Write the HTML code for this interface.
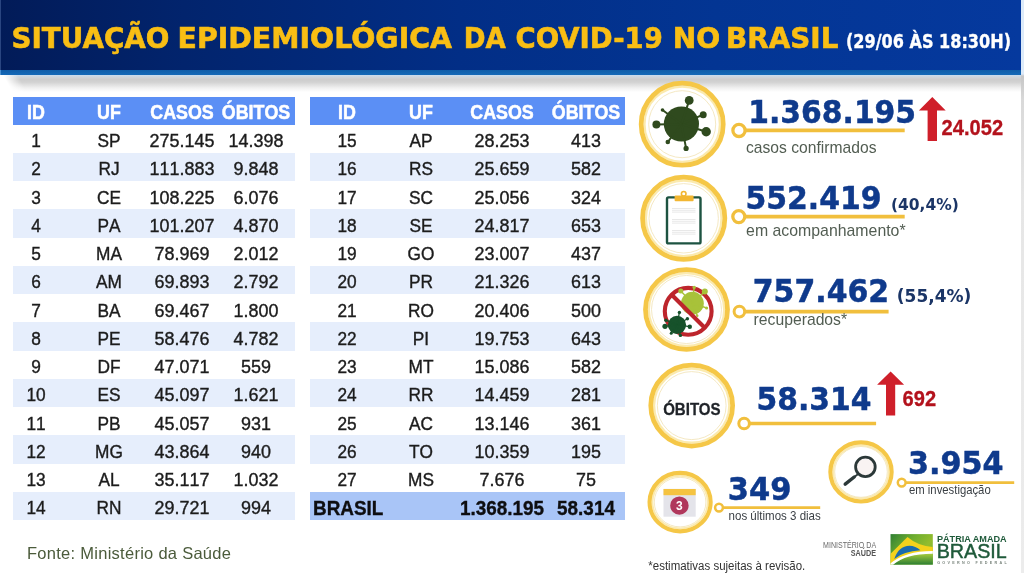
<!DOCTYPE html>
<html lang="pt-BR">
<head>
<meta charset="utf-8">
<title>Situação epidemiológica da COVID-19 no Brasil</title>
<style>
html,body{margin:0;padding:0}
body{width:1024px;height:573px;position:relative;overflow:hidden;background:#fff;font-family:"Liberation Sans",sans-serif;color:#1c1c1c}
.header{position:absolute;left:0;top:0;width:1021px;height:70px;background:linear-gradient(90deg,#021b58 0%,#02246d 18%,#022e86 45%,#033593 70%,#05399e 100%)}
.hstrip{position:absolute;left:0;top:69.7px;width:1021px;height:5px;background:linear-gradient(180deg,#0f5ca8,#1469b8)}
.ledge{position:absolute;left:0;top:0;width:1.3px;height:74.7px;background:linear-gradient(180deg,#2a4580 0,#2a4580 69.7px,#4a90d2 70px)}
.hshadow{position:absolute;left:2px;top:74.5px;width:1019px;height:17px;background:linear-gradient(62deg,#fff 0,#fff 9px,rgba(255,255,255,0) 22px),linear-gradient(180deg,#c9dcef 0%,#cfd3d8 14%,#cdcdcd 26%,#d2d2d2 42%,#f0f0f0 76%,#fff 100%)}
.rshadow{position:absolute;left:1021px;top:0;width:3px;height:573px;background:linear-gradient(180deg,#dceaf9 0,#dceaf9 74px,#c6c6c6 76px,#d9d9d9 100px,#e6e6e6 200px,#ececec 573px)}
.tb{position:absolute;top:97px;height:423px}
.t1{left:13px;width:282px}
.t2{left:310px;width:315px}
.tr{position:absolute;left:0;width:100%;height:28.243px;line-height:28.243px;font-size:19.2px;-webkit-text-stroke:0.4px #1c1c1c}
.tr.alt{background:#e6eefc}
.tr.th{background:#5b8ff5;color:#fff;font-weight:bold;font-size:20.5px;line-height:27.8px;-webkit-text-stroke:0.55px #fff}
.tr.tot{background:#a9c5f7;font-weight:bold;font-size:19.6px;color:#0e0e10;-webkit-text-stroke:0.35px #0e0e10}
.tb .tr.tot span{transform:scaleX(.965)}
.tr span{font-kerning:none;position:absolute;top:2.5px;width:100px;margin-left:-50px;text-align:center;white-space:nowrap;transform:scaleX(.90)}
.tr.th span{transform:scaleX(.87);top:1px}
.t1 .c1{left:23px}.t1 .c2{left:96px}.t1 .c3{left:168.5px;transform:scaleX(.935)}.t1 .c4{left:243px;transform:scaleX(.935)}
.t2 .c1{left:37.3px}.t2 .c2{left:110.5px}.t2 .c3{left:191.5px;transform:scaleX(.935)}.t2 .c4{left:276px;transform:scaleX(.935)}
.tr.tot span.c0{left:3px;margin-left:0;width:auto;text-align:left;transform-origin:0 50%}
.fonte{position:absolute;left:27px;top:543px;font-size:16.5px;letter-spacing:.27px;color:#4b5b3b;line-height:20px;white-space:nowrap;transform-origin:0 50%}
svg.panel{position:absolute;left:0;top:0}
</style>
</head>
<body>
<div class="header"></div>
<div class="hstrip"></div>
<div class="hshadow"></div>
<div class="ledge"></div>
<div class="rshadow"></div>
<div class="tb t1">
<div class="tr th" style="top:0;height:27.6px"><span class="c1">ID</span><span class="c2">UF</span><span class="c3">CASOS</span><span class="c4">ÓBITOS</span></div>
<div class="tr" style="top:27.60px"><span class="c1">1</span><span class="c2">SP</span><span class="c3">275.145</span><span class="c4">14.398</span></div>
<div class="tr alt" style="top:55.84px"><span class="c1">2</span><span class="c2">RJ</span><span class="c3">111.883</span><span class="c4">9.848</span></div>
<div class="tr" style="top:84.09px"><span class="c1">3</span><span class="c2">CE</span><span class="c3">108.225</span><span class="c4">6.076</span></div>
<div class="tr alt" style="top:112.33px"><span class="c1">4</span><span class="c2">PA</span><span class="c3">101.207</span><span class="c4">4.870</span></div>
<div class="tr" style="top:140.57px"><span class="c1">5</span><span class="c2">MA</span><span class="c3">78.969</span><span class="c4">2.012</span></div>
<div class="tr alt" style="top:168.81px"><span class="c1">6</span><span class="c2">AM</span><span class="c3">69.893</span><span class="c4">2.792</span></div>
<div class="tr" style="top:197.06px"><span class="c1">7</span><span class="c2">BA</span><span class="c3">69.467</span><span class="c4">1.800</span></div>
<div class="tr alt" style="top:225.30px"><span class="c1">8</span><span class="c2">PE</span><span class="c3">58.476</span><span class="c4">4.782</span></div>
<div class="tr" style="top:253.54px"><span class="c1">9</span><span class="c2">DF</span><span class="c3">47.071</span><span class="c4">559</span></div>
<div class="tr alt" style="top:281.79px"><span class="c1">10</span><span class="c2">ES</span><span class="c3">45.097</span><span class="c4">1.621</span></div>
<div class="tr" style="top:310.03px"><span class="c1">11</span><span class="c2">PB</span><span class="c3">45.057</span><span class="c4">931</span></div>
<div class="tr alt" style="top:338.27px"><span class="c1">12</span><span class="c2">MG</span><span class="c3">43.864</span><span class="c4">940</span></div>
<div class="tr" style="top:366.51px"><span class="c1">13</span><span class="c2">AL</span><span class="c3">35.117</span><span class="c4">1.032</span></div>
<div class="tr alt" style="top:394.76px"><span class="c1">14</span><span class="c2">RN</span><span class="c3">29.721</span><span class="c4">994</span></div>
</div>
<div class="tb t2">
<div class="tr th" style="top:0;height:27.6px"><span class="c1">ID</span><span class="c2">UF</span><span class="c3">CASOS</span><span class="c4">ÓBITOS</span></div>
<div class="tr" style="top:27.60px"><span class="c1">15</span><span class="c2">AP</span><span class="c3">28.253</span><span class="c4">413</span></div>
<div class="tr alt" style="top:55.84px"><span class="c1">16</span><span class="c2">RS</span><span class="c3">25.659</span><span class="c4">582</span></div>
<div class="tr" style="top:84.09px"><span class="c1">17</span><span class="c2">SC</span><span class="c3">25.056</span><span class="c4">324</span></div>
<div class="tr alt" style="top:112.33px"><span class="c1">18</span><span class="c2">SE</span><span class="c3">24.817</span><span class="c4">653</span></div>
<div class="tr" style="top:140.57px"><span class="c1">19</span><span class="c2">GO</span><span class="c3">23.007</span><span class="c4">437</span></div>
<div class="tr alt" style="top:168.81px"><span class="c1">20</span><span class="c2">PR</span><span class="c3">21.326</span><span class="c4">613</span></div>
<div class="tr" style="top:197.06px"><span class="c1">21</span><span class="c2">RO</span><span class="c3">20.406</span><span class="c4">500</span></div>
<div class="tr alt" style="top:225.30px"><span class="c1">22</span><span class="c2">PI</span><span class="c3">19.753</span><span class="c4">643</span></div>
<div class="tr" style="top:253.54px"><span class="c1">23</span><span class="c2">MT</span><span class="c3">15.086</span><span class="c4">582</span></div>
<div class="tr alt" style="top:281.79px"><span class="c1">24</span><span class="c2">RR</span><span class="c3">14.459</span><span class="c4">281</span></div>
<div class="tr" style="top:310.03px"><span class="c1">25</span><span class="c2">AC</span><span class="c3">13.146</span><span class="c4">361</span></div>
<div class="tr alt" style="top:338.27px"><span class="c1">26</span><span class="c2">TO</span><span class="c3">10.359</span><span class="c4">195</span></div>
<div class="tr" style="top:366.51px"><span class="c1">27</span><span class="c2">MS</span><span class="c3">7.676</span><span class="c4">75</span></div>
<div class="tr tot" style="top:394.76px"><span class="c0">BRASIL</span><span class="c3">1.368.195</span><span class="c4">58.314</span></div>
</div>
<div class="fonte">Fonte: Ministério da Saúde</div>
<svg class="panel" width="1024" height="573" viewBox="0 0 1024 573">
<g font-family="'DejaVu Sans',sans-serif" font-weight="bold" font-size="28.3" fill="#f9be14" stroke="#f9be14" stroke-width="0.6"><text x="11.5" y="47.8" textLength="158.0" lengthAdjust="spacingAndGlyphs">SITUAÇÃO</text><text x="177.5" y="47.8" textLength="274.5" lengthAdjust="spacingAndGlyphs">EPIDEMIOLÓGICA</text><text x="463.7" y="47.8" textLength="42.0" lengthAdjust="spacingAndGlyphs">DA</text><text x="515.5" y="47.8" textLength="147.3" lengthAdjust="spacingAndGlyphs">COVID-19</text><text x="672.7" y="47.8" textLength="47.5" lengthAdjust="spacingAndGlyphs">NO</text><text x="726.1" y="47.8" textLength="112.3" lengthAdjust="spacingAndGlyphs">BRASIL</text></g>
<text x="846" y="47.8" font-family="'DejaVu Sans',sans-serif" font-weight="bold" font-size="18.8" fill="#fff" textLength="165" lengthAdjust="spacingAndGlyphs" stroke="#fff" stroke-width="0.35">(29/06 ÀS 18:30H)</text>
<line x1="745.1" y1="130.4" x2="904.7" y2="130.4" stroke="#f1bf3d" stroke-width="3.7"/><circle cx="739.0" cy="130.4" r="6.1" fill="#fff" stroke="#f1bf3d" stroke-width="3.3"/>
<line x1="744.8" y1="216.6" x2="904.7" y2="216.6" stroke="#f1bf3d" stroke-width="3.7"/><circle cx="738.8" cy="216.6" r="6.0" fill="#fff" stroke="#f1bf3d" stroke-width="3.3"/>
<line x1="744.6999999999999" y1="311.6" x2="888.6" y2="311.6" stroke="#f1bf3d" stroke-width="3.7"/><circle cx="739.4" cy="311.6" r="5.3" fill="#fff" stroke="#f1bf3d" stroke-width="3.0"/>
<line x1="749.4" y1="423.5" x2="876.1" y2="423.5" stroke="#f1bf3d" stroke-width="3.7"/><circle cx="744.1" cy="423.5" r="5.3" fill="#fff" stroke="#f1bf3d" stroke-width="3.0"/>
<line x1="722.9" y1="507.6" x2="820.2" y2="507.6" stroke="#f1bf3d" stroke-width="2.8"/><circle cx="719.0" cy="507.6" r="3.9" fill="#fff" stroke="#f1bf3d" stroke-width="2.5"/>
<line x1="905.6" y1="482.6" x2="1014.2" y2="482.6" stroke="#f1bf3d" stroke-width="2.8"/><circle cx="901.7" cy="482.6" r="3.9" fill="#fff" stroke="#f1bf3d" stroke-width="2.5"/>
<ellipse cx="682.2" cy="124.2" rx="37.60" ry="37.60" fill="#fff" stroke="#fbeaae" stroke-width="2.09"/><ellipse cx="682.2" cy="124.2" rx="41.02" ry="41.02" fill="none" stroke="#f5c747" stroke-width="4.76"/><ellipse cx="682.2" cy="124.2" rx="33.5" ry="33.50" fill="none" stroke="#f1e2b4" stroke-width="0.8"/>
<ellipse cx="683.7" cy="218.3" rx="37.70" ry="37.70" fill="#fff" stroke="#fbeaae" stroke-width="2.09"/><ellipse cx="683.7" cy="218.3" rx="41.12" ry="41.12" fill="none" stroke="#f5c747" stroke-width="4.76"/><ellipse cx="683.7" cy="218.3" rx="34.7" ry="34.70" fill="none" stroke="#f1e2b4" stroke-width="0.8"/>
<ellipse cx="686.5" cy="309.5" rx="37.60" ry="36.40" fill="#fff" stroke="#fbeaae" stroke-width="2.09"/><ellipse cx="686.5" cy="309.5" rx="41.02" ry="39.82" fill="none" stroke="#f5c747" stroke-width="4.76"/><ellipse cx="686.5" cy="309.5" rx="35.0" ry="34.03" fill="none" stroke="#f1e2b4" stroke-width="0.8"/>
<ellipse cx="691.7" cy="405.6" rx="37.50" ry="37.00" fill="#fff" stroke="#fbeaae" stroke-width="2.09"/><ellipse cx="691.7" cy="405.6" rx="40.92" ry="40.42" fill="none" stroke="#f5c747" stroke-width="4.76"/><ellipse cx="691.7" cy="405.6" rx="34.4" ry="34.00" fill="none" stroke="#f1e2b4" stroke-width="0.8"/>
<ellipse cx="680.1" cy="502.1" rx="27.60" ry="26.30" fill="#fff" stroke="#fbeaae" stroke-width="1.80"/><ellipse cx="680.1" cy="502.1" rx="30.55" ry="29.25" fill="none" stroke="#f5c747" stroke-width="4.10"/><ellipse cx="680.1" cy="502.1" rx="25.8" ry="24.77" fill="none" stroke="#f1e2b4" stroke-width="0.8"/>
<ellipse cx="861.0" cy="471.9" rx="27.70" ry="26.60" fill="#fff" stroke="#fbeaae" stroke-width="1.80"/><ellipse cx="861.0" cy="471.9" rx="30.65" ry="29.55" fill="none" stroke="#f5c747" stroke-width="4.10"/><ellipse cx="861.0" cy="471.9" rx="26.3" ry="25.42" fill="none" stroke="#f1e2b4" stroke-width="0.8"/>
<g fill="#2f4a1e" stroke="#2f4a1e" stroke-width="2" stroke-linecap="round"><circle cx="681.4" cy="124" r="17.6" stroke="none"/><line x1="681.4" y1="124" x2="689.2" y2="100.4"/><circle cx="689.2" cy="100.4" r="4.4" stroke="none"/><line x1="681.4" y1="124" x2="703.2" y2="114.7"/><circle cx="703.2" cy="114.7" r="3.5" stroke="none"/><line x1="681.4" y1="124" x2="706.2" y2="131.8"/><circle cx="706.2" cy="131.8" r="4.7" stroke="none"/><line x1="681.4" y1="124" x2="686.1" y2="148.4"/><circle cx="686.1" cy="148.4" r="2.6" stroke="none"/><line x1="681.4" y1="124" x2="667.8" y2="142"/><circle cx="667.8" cy="142" r="2.3" stroke="none"/><line x1="681.4" y1="124" x2="656.4" y2="124.5"/><circle cx="656.4" cy="124.5" r="4.0" stroke="none"/><line x1="681.4" y1="124" x2="662.5" y2="110"/><circle cx="662.5" cy="110" r="1.8" stroke="none"/></g>
<g><rect x="667" y="197.4" width="33.5" height="46" rx="1.5" fill="#fff" stroke="#1d5341" stroke-width="2.4"/><line x1="672" y1="208.5" x2="695.5" y2="208.5" stroke="#e2e2e2" stroke-width="0.8"/><line x1="672" y1="210.3" x2="695.5" y2="210.3" stroke="#e2e2e2" stroke-width="0.8"/><line x1="672" y1="212.1" x2="695.5" y2="212.1" stroke="#e2e2e2" stroke-width="0.8"/><line x1="672" y1="219.5" x2="695.5" y2="219.5" stroke="#e2e2e2" stroke-width="0.8"/><line x1="672" y1="221.3" x2="695.5" y2="221.3" stroke="#e2e2e2" stroke-width="0.8"/><line x1="672" y1="223.1" x2="695.5" y2="223.1" stroke="#e2e2e2" stroke-width="0.8"/><line x1="672" y1="230.5" x2="695.5" y2="230.5" stroke="#e2e2e2" stroke-width="0.8"/><line x1="672" y1="232.3" x2="695.5" y2="232.3" stroke="#e2e2e2" stroke-width="0.8"/><line x1="672" y1="234.1" x2="695.5" y2="234.1" stroke="#e2e2e2" stroke-width="0.8"/><circle cx="683.7" cy="193.8" r="2.3" fill="none" stroke="#f2b632" stroke-width="1.6"/><rect x="674.6" y="195.6" width="19" height="5.6" rx="1" fill="#f2b632"/></g>
<circle cx="688.2" cy="311.3" r="23.4" fill="none" stroke="#bd252c" stroke-width="4.1"/><g fill="#a8c23a"><circle cx="692.4" cy="303.2" r="11.4"/><circle cx="680.8" cy="291" r="2.5"/><line x1="692.4" y1="303.2" x2="680.8" y2="291" stroke="#a8c23a" stroke-width="1.4"/><circle cx="694.2" cy="287.4" r="1.7"/><line x1="692.4" y1="303.2" x2="694.2" y2="287.4" stroke="#a8c23a" stroke-width="1.4"/><circle cx="704.8" cy="291.4" r="3"/><line x1="692.4" y1="303.2" x2="704.8" y2="291.4" stroke="#a8c23a" stroke-width="1.4"/><circle cx="706.6" cy="308" r="1.5"/><line x1="692.4" y1="303.2" x2="706.6" y2="308" stroke="#a8c23a" stroke-width="1.4"/><circle cx="697.3" cy="315.8" r="1.2"/><line x1="692.4" y1="303.2" x2="697.3" y2="315.8" stroke="#a8c23a" stroke-width="1.4"/></g><line x1="671.7" y1="294.8" x2="704.7" y2="327.8" stroke="#bd252c" stroke-width="4.1"/><g fill="#17522b"><circle cx="677.0" cy="324.9" r="9.1"/><circle cx="689.8" cy="326.7" r="2.2"/><line x1="677.0" y1="324.9" x2="689.8" y2="326.7" stroke="#17522b" stroke-width="1.3"/><circle cx="687.4" cy="318.8" r="1.7"/><line x1="677.0" y1="324.9" x2="687.4" y2="318.8" stroke="#17522b" stroke-width="1.3"/><circle cx="679.4" cy="312.4" r="1.7"/><line x1="677.0" y1="324.9" x2="679.4" y2="312.4" stroke="#17522b" stroke-width="1.3"/><circle cx="665.9" cy="320.2" r="1.7"/><line x1="677.0" y1="324.9" x2="665.9" y2="320.2" stroke="#17522b" stroke-width="1.3"/><circle cx="665" cy="326.3" r="2.6"/><line x1="677.0" y1="324.9" x2="665" y2="326.3" stroke="#17522b" stroke-width="1.3"/><circle cx="671.2" cy="333.3" r="1.5"/><line x1="677.0" y1="324.9" x2="671.2" y2="333.3" stroke="#17522b" stroke-width="1.3"/><circle cx="680.4" cy="335.4" r="1.7"/><line x1="677.0" y1="324.9" x2="680.4" y2="335.4" stroke="#17522b" stroke-width="1.3"/></g>
<text x="691.9" y="415.2" font-family="'Liberation Sans',sans-serif" font-weight="bold" font-size="17.2" fill="#1f2328" textLength="57.5" lengthAdjust="spacingAndGlyphs" text-anchor="middle" stroke="#1f2328" stroke-width="0.3">ÓBITOS</text>
<g><rect x="663.5" y="488.8" width="32.2" height="27.9" fill="#e4e4ea"/><rect x="663.5" y="489" width="32.2" height="6.2" fill="#f5c341"/><circle cx="679.4" cy="505.6" r="9.2" fill="#b0375c"/><text x="679.4" y="509.8" font-family="'Liberation Sans',sans-serif" font-weight="bold" font-size="12" fill="#fff" text-anchor="middle">3</text>
</g>
<g stroke="#2b3838" fill="none"><circle cx="865.4" cy="466.9" r="9.8" stroke-width="2.8" fill="#f9f3f2"/><line x1="858.2" y1="474" x2="853" y2="478" stroke-width="1.8"/><line x1="854.2" y1="477" x2="845.2" y2="484.1" stroke-width="3.4" stroke-linecap="round"/></g>
<text x="748.3" y="123.45" font-family="'DejaVu Sans',sans-serif" font-weight="bold" font-size="32.4" fill="#0f3a8c" textLength="167.8" lengthAdjust="spacingAndGlyphs" stroke="#0f3a8c" stroke-width="0.5">1.368.195</text>
<text x="745.4" y="209.2" font-family="'DejaVu Sans',sans-serif" font-weight="bold" font-size="32.4" fill="#0f3a8c" textLength="136.2" lengthAdjust="spacingAndGlyphs" stroke="#0f3a8c" stroke-width="0.5">552.419</text>
<text x="752.8" y="302.05" font-family="'DejaVu Sans',sans-serif" font-weight="bold" font-size="32.4" fill="#0f3a8c" textLength="136.3" lengthAdjust="spacingAndGlyphs" stroke="#0f3a8c" stroke-width="0.5">757.462</text>
<text x="756.5" y="410.25" font-family="'DejaVu Sans',sans-serif" font-weight="bold" font-size="32.4" fill="#0f3a8c" textLength="115.0" lengthAdjust="spacingAndGlyphs" stroke="#0f3a8c" stroke-width="0.5">58.314</text>
<text x="727.7" y="500.05" font-family="'DejaVu Sans',sans-serif" font-weight="bold" font-size="32.4" fill="#0f3a8c" textLength="63.7" lengthAdjust="spacingAndGlyphs" stroke="#0f3a8c" stroke-width="0.5">349</text>
<text x="907.9" y="474.05" font-family="'DejaVu Sans',sans-serif" font-weight="bold" font-size="32.4" fill="#0f3a8c" textLength="95.7" lengthAdjust="spacingAndGlyphs" stroke="#0f3a8c" stroke-width="0.5">3.954</text>
<text x="890.9" y="210.4" font-family="'DejaVu Sans',sans-serif" font-weight="bold" font-size="15.3" fill="#1b3566" textLength="68" lengthAdjust="spacingAndGlyphs">(40,4%)</text>
<text x="896.8" y="302.3" font-family="'DejaVu Sans',sans-serif" font-weight="bold" font-size="16.8" fill="#1b3566" textLength="74.6" lengthAdjust="spacingAndGlyphs">(55,4%)</text>
<path d="M932.3 96.9 L945.6999999999999 110.5 L937.0 110.5 L937.0 140.9 L927.5999999999999 140.9 L927.5999999999999 110.5 L918.9 110.5 Z" fill="#cf1f2a"/>
<path d="M890.6 371.5 L904.1 384.8 L895.2 384.8 L895.2 415.4 L886.0 415.4 L886.0 384.8 L877.1 384.8 Z" fill="#cf1f2a"/>
<text x="941.6" y="135.1" font-family="'Liberation Sans',sans-serif" font-weight="bold" font-size="21.6" fill="#b3121c" textLength="61.5" lengthAdjust="spacingAndGlyphs" stroke="#b3121c" stroke-width="0.3">24.052</text>
<text x="902.6" y="406.4" font-family="'Liberation Sans',sans-serif" font-weight="bold" font-size="21.3" fill="#b3121c" textLength="33.5" lengthAdjust="spacingAndGlyphs" stroke="#b3121c" stroke-width="0.3">692</text>
<text x="746" y="152.5" font-family="'Liberation Sans',sans-serif" font-size="16.4" fill="#525d52" textLength="130.5" lengthAdjust="spacingAndGlyphs">casos confirmados</text>
<text x="746.1" y="235.5" font-family="'Liberation Sans',sans-serif" font-size="16.4" fill="#525d52" textLength="159.5" lengthAdjust="spacingAndGlyphs">em acompanhamento*</text>
<text x="753.6" y="324.9" font-family="'Liberation Sans',sans-serif" font-size="16.4" fill="#525d52" textLength="93.5" lengthAdjust="spacingAndGlyphs">recuperados*</text>
<text x="728.6" y="519.8" font-family="'Liberation Sans',sans-serif" font-size="12.6" fill="#3a3f44" textLength="92.2" lengthAdjust="spacingAndGlyphs">nos últimos 3 dias</text>
<text x="909" y="493.8" font-family="'Liberation Sans',sans-serif" font-size="12.8" fill="#3a3f44" textLength="81.7" lengthAdjust="spacingAndGlyphs">em investigação</text>
<text x="648.3" y="570.4" font-family="'Liberation Sans',sans-serif" font-size="12.5" fill="#333" textLength="157" lengthAdjust="spacingAndGlyphs">*estimativas sujeitas à revisão.</text>
<text x="876.1" y="548" font-family="'Liberation Sans',sans-serif" font-size="8.8" fill="#6a6a6a" textLength="53" lengthAdjust="spacingAndGlyphs" text-anchor="end">MINISTÉRIO DA</text>
<text x="876.1" y="556.1" font-family="'Liberation Sans',sans-serif" font-weight="bold" font-size="8.8" fill="#555" textLength="25.3" lengthAdjust="spacingAndGlyphs" text-anchor="end">SAÚDE</text>
<defs><linearGradient id="fg" x1="0" y1="0" x2="1" y2="0.6"><stop offset="0" stop-color="#2f7f34"/><stop offset="0.45" stop-color="#6fae2f"/><stop offset="0.8" stop-color="#93bd2e"/><stop offset="1" stop-color="#7fb52f"/></linearGradient><linearGradient id="fg2" x1="0" y1="0" x2="0" y2="1"><stop offset="0" stop-color="#a6cb3c"/><stop offset="1" stop-color="#2a7d33"/></linearGradient><clipPath id="fc"><rect x="890.3" y="534.1" width="42.6" height="30.7"/></clipPath></defs>
<g clip-path="url(#fc)"><rect x="890.3" y="534.1" width="42.6" height="30.7" fill="url(#fg)"/>
<path d="M890.3 554 L907.5 537.1 Q918 546.2 932.9 547 L932.9 552 Q905 552 890.3 565 Z" fill="#f3d21c"/>
<path d="M894.3 559 Q898.5 546.2 909.5 545.8 Q915.5 546 920.4 550.3 Q903.5 551.2 894.3 559 Z" fill="#1b6cae"/>
<path d="M893 564.8 Q906 553.6 932.9 553.6 L932.9 564.8 Z" fill="url(#fg2)"/>
<path d="M890.3 563.6 Q905 550.9 932.9 551 L932.9 553.7 Q906 553.6 893 564.8 L890.3 564.8 Z" fill="#fff"/></g>
<text x="936.9" y="541.9" font-family="'Liberation Sans',sans-serif" font-weight="bold" font-size="9.6" fill="#1f5a3a" textLength="69.8" lengthAdjust="spacingAndGlyphs">PÁTRIA AMADA</text>
<text x="936.7" y="558.1" font-family="'Liberation Sans',sans-serif" font-size="21.0" fill="#1f5a3a" textLength="70" lengthAdjust="spacingAndGlyphs" stroke="#1f5a3a" stroke-width="0.45">BRASIL</text>
<text x="937.2" y="564.4" font-family="'Liberation Sans',sans-serif" font-weight="bold" font-size="3.7" fill="#7a857d" textLength="69.5" lengthAdjust="spacing">GOVERNO FEDERAL</text>
</svg>
</body>
</html>
